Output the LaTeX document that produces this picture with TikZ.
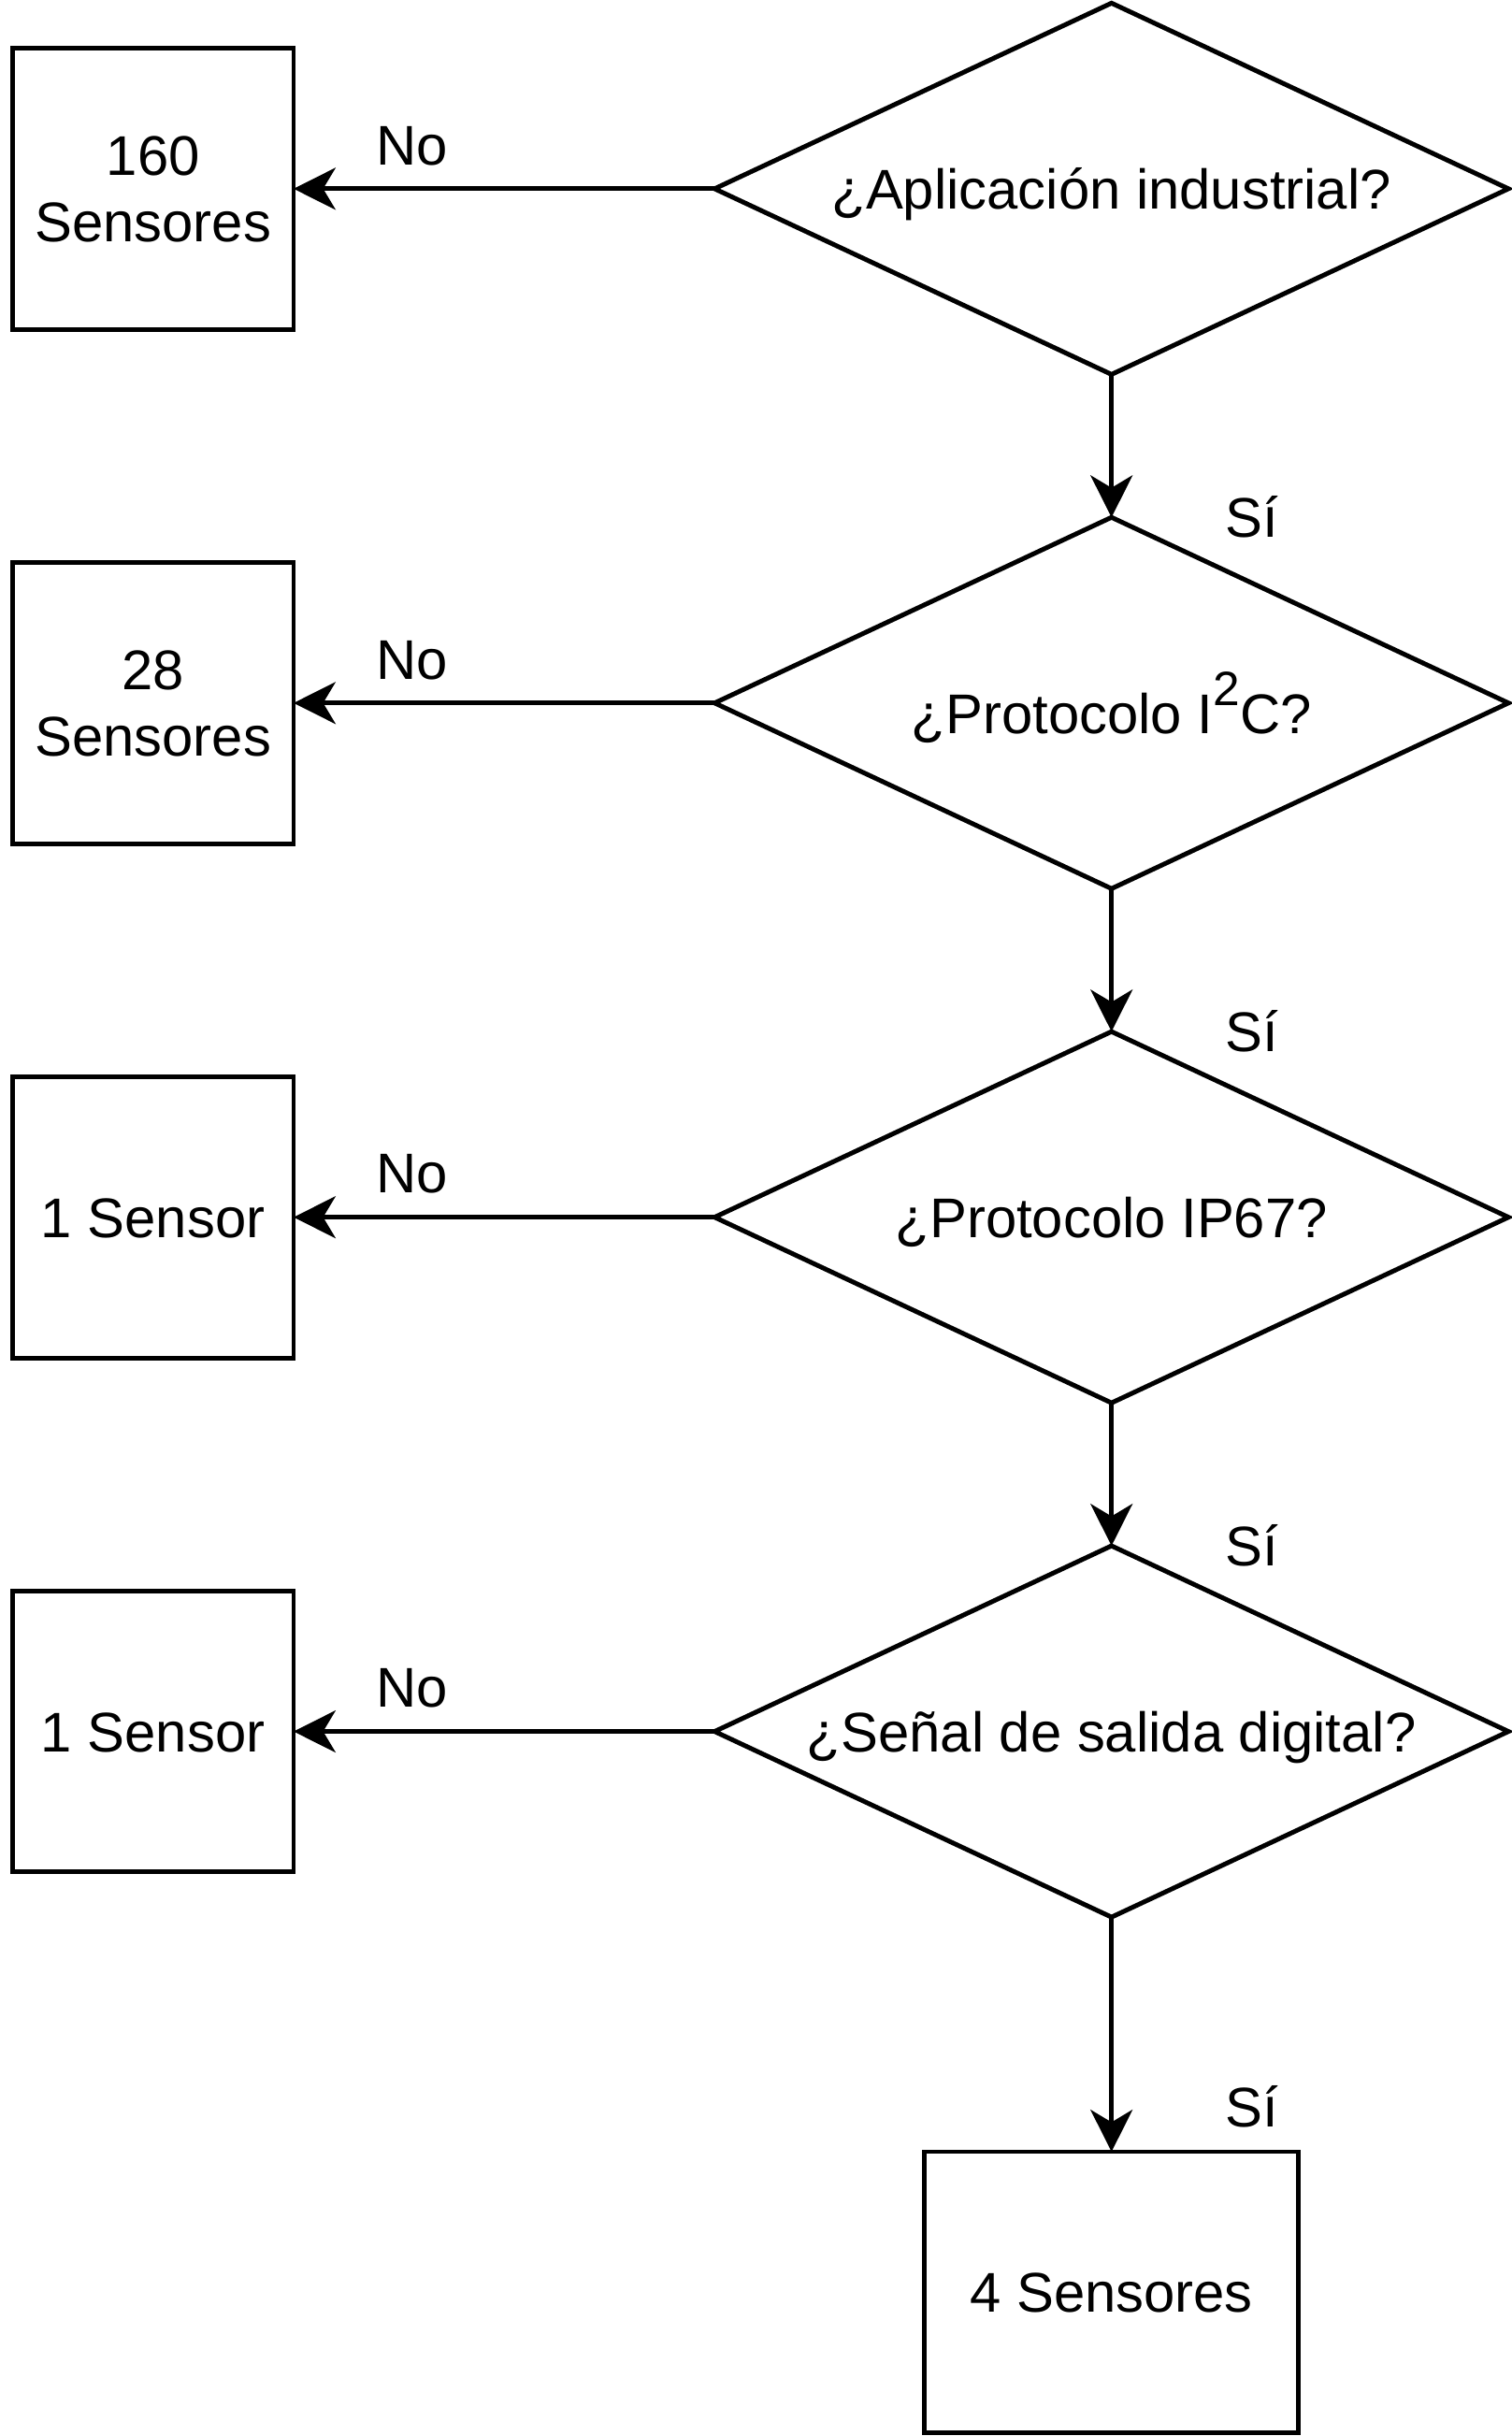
\documentclass[tikz,border=0pt]{standalone}
\usepackage{fontspec}
\setmainfont{Liberation Sans}
\usetikzlibrary{shapes.geometric,arrows.meta}
\begin{document}
\begin{tikzpicture}[x=1pt,y=-1pt,line width=3pt,
  every node/.style={font=\fontsize{36pt}{42.6pt}\selectfont,inner sep=0pt,outer sep=0pt},
  box/.style={draw,minimum width=181pt,minimum height=181pt,align=center,text height=25.8pt,text depth=0pt},
  twoline/.style={text height=68.4pt,text depth=0pt},
  dec/.style={draw,diamond,aspect=2.14,minimum width=511pt,minimum height=239pt,text height=25.8pt,text depth=0pt},
  arr/.style={-{Stealth[length=27pt,width=27pt,inset=8pt]}},
  lbl/.style={anchor=base}]
\useasboundingbox (0,0) rectangle (973,1568);
% decisions
\node[dec] (d1) at (715.5,121.5) {¿Aplicación industrial?};
\node[dec,text height=39.8pt] (d2) at (715.5,452.5) {¿Protocolo I\raisebox{0.5em}{\fontsize{31pt}{31pt}\selectfont 2}C?};
\node[dec] (d3) at (715.5,783.5) {¿Protocolo IP67?};
\node[dec] (d4) at (715.5,1114.5) {¿Señal de salida digital?};
% outcome boxes
\node[box,twoline] (b1) at (98.5,121.5) {160\\Sensores};
\node[box,twoline] (b2) at (98.5,452.5) {28\\Sensores};
\node[box] (b3) at (98.5,783.5) {1 Sensor};
\node[box] (b4) at (98.5,1114.5) {1 Sensor};
\node[box,minimum width=241pt] (b5) at (715.5,1475.5) {4 Sensores};
% connectors
\draw[arr] (d1.west) -- (b1.east);
\draw[arr] (d2.west) -- (b2.east);
\draw[arr] (d3.west) -- (b3.east);
\draw[arr] (d4.west) -- (b4.east);
\draw[arr] (d1.south) -- (d2.north);
\draw[arr] (d2.south) -- (d3.north);
\draw[arr] (d3.south) -- (d4.north);
\draw[arr] (d4.south) -- (b5.north);
% labels
\node[lbl] (no1) at (265,106) {No};
\node[lbl] (no2) at (265,437) {No};
\node[lbl] (no3) at (265,768) {No};
\node[lbl] (no4) at (265,1099) {No};
\node[lbl] (si1) at (806,346) {Sí};
\node[lbl] (si2) at (806,677) {Sí};
\node[lbl] (si3) at (806,1008) {Sí};
\node[lbl] (si4) at (806,1369) {Sí};
\end{tikzpicture}
\end{document}
